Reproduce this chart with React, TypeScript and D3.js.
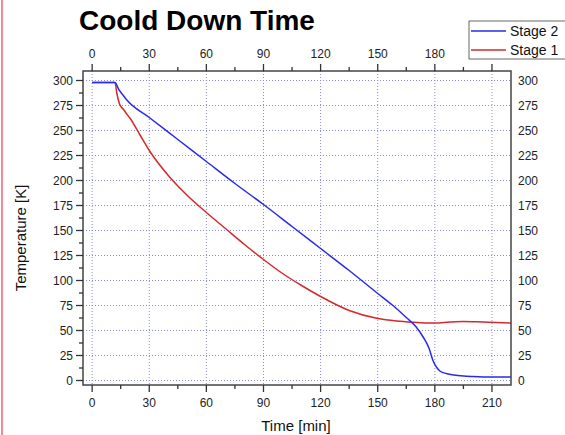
import React from "react";
import * as d3 from "d3";

// values
const stage2Time = [0, 12, 14, 16, 18, 30, 45, 60, 75, 90, 105, 120, 135, 150, 158, 165, 170, 174, 177, 179, 181, 183, 186, 190, 195, 200, 210, 220];
const stage2Temp = [298, 298, 291, 286, 281, 263, 241, 219, 197, 176, 154, 132, 110, 87, 75, 63, 54, 43, 32, 20, 13, 9, 7, 5.5, 4.5, 4, 3.5, 3.5];
const stage1Time = [0, 12, 13, 14.5, 16.5, 18, 20, 25, 30, 40, 50, 60, 70, 80, 90, 100, 110, 120, 135, 150, 160, 168, 175, 180, 188, 195, 205, 220];
const stage1Temp = [298, 298, 287, 276, 271, 267, 262, 246, 230, 205, 185, 168, 152, 136, 121, 107, 95, 84, 70, 62, 59.5, 58.3, 57.6, 57.5, 58.5, 59, 58.5, 57.5];
const xTicks = [0, 30, 60, 90, 120, 150, 180, 210];
const yTicks = [0, 25, 50, 75, 100, 125, 150, 175, 200, 225, 250, 275, 300];

const font = "'Liberation Sans', Arial, sans-serif";

const App: React.FC = () => {
  const left = 83, right = 511, top = 71, bottom = 385;
  const x = d3.scaleLinear().domain([-4.8, 220]).range([left, right]);
  const y = d3.scaleLinear().domain([-4.5, 309.5]).range([bottom, top]);

  const line = d3
    .line<[number, number]>()
    .x((d) => x(d[0]))
    .y((d) => y(d[1]))
    .curve(d3.curveMonotoneX);

  const s2 = stage2Time.map((t, i) => [t, stage2Temp[i]] as [number, number]);
  const s1 = stage1Time.map((t, i) => [t, stage1Temp[i]] as [number, number]);

  const xMinor = d3.range(15, 220, 30);
  const yMinor = d3.range(12.5, 310, 25);

  return (
    <svg width={565} height={435} style={{ position: "absolute", left: 0, top: 0, background: "#fff" }} fontFamily={font}>
      <line x1={2} x2={2} y1={0} y2={435} stroke="#f28a9c" strokeWidth={2} />
      <text x={79} y={30} fontSize={28} fontWeight="bold" fill="#000">Coold Down Time</text>

      {/* grid */}
      <g stroke="#8a8ae8" strokeWidth={1} strokeDasharray="1,2">
        {xTicks.map((t) => (
          <line key={"gx" + t} x1={x(t)} x2={x(t)} y1={top} y2={bottom} />
        ))}
        {yTicks.map((t) => (
          <line key={"gy" + t} x1={left} x2={right} y1={y(t)} y2={y(t)} />
        ))}
      </g>

      {/* curves */}
      <path d={line(s1) ?? ""} fill="none" stroke="#d42a2a" strokeWidth={1.5} />
      <path d={line(s2) ?? ""} fill="none" stroke="#2a2aee" strokeWidth={1.5} />

      {/* frame */}
      <rect x={left} y={top} width={right - left} height={bottom - top} fill="none" stroke="#444" strokeWidth={1.5} />

      {/* ticks */}
      <g stroke="#333" strokeWidth={1.3}>
        {xTicks.map((t) => (
          <g key={"tx" + t}>
            <line x1={x(t)} x2={x(t)} y1={bottom} y2={bottom + 7} />
            <line x1={x(t)} x2={x(t)} y1={top} y2={top - 7} />
          </g>
        ))}
        {xMinor.map((t) => (
          <g key={"mx" + t}>
            <line x1={x(t)} x2={x(t)} y1={bottom} y2={bottom + 4} />
            <line x1={x(t)} x2={x(t)} y1={top} y2={top - 4} />
          </g>
        ))}
        {yTicks.map((t) => (
          <line key={"ty" + t} x1={left} x2={left - 7} y1={y(t)} y2={y(t)} />
        ))}
        {yMinor.map((t) => (
          <line key={"my" + t} x1={left} x2={left - 4} y1={y(t)} y2={y(t)} />
        ))}
      </g>

      {/* tick labels */}
      <g fontSize={12} fill="#222">
        {xTicks.map((t) => (
          <text key={"lb" + t} x={x(t)} y={bottom + 22} textAnchor="middle">{t}</text>
        ))}
        {xTicks.map((t) => (
          <text key={"lt" + t} x={x(t)} y={top - 13} textAnchor="middle">{t}</text>
        ))}
        {yTicks.map((t) => (
          <text key={"ll" + t} x={left - 10} y={y(t) + 4} textAnchor="end">{t}</text>
        ))}
        {yTicks.map((t) => (
          <text key={"lr" + t} x={right + 7} y={y(t) + 4} textAnchor="start">{t}</text>
        ))}
      </g>

      <text x={296} y={431} fontSize={15} textAnchor="middle" fill="#111">Time [min]</text>
      <text transform="translate(26,238) rotate(-90)" fontSize={15} textAnchor="middle" fill="#111">Temperature [K]</text>

      {/* legend */}
      <rect x={469} y={21} width={110} height={38} fill="#fff" stroke="#666" strokeWidth={1} />
      <line x1={471} x2={506} y1={31} y2={31} stroke="#2a2aee" strokeWidth={1.5} />
      <line x1={471} x2={506} y1={50} y2={50} stroke="#d42a2a" strokeWidth={1.5} />
      <text x={510} y={36} fontSize={14} fill="#111">Stage 2</text>
      <text x={510} y={55} fontSize={14} fill="#111">Stage 1</text>
    </svg>
  );
};

export default App;
